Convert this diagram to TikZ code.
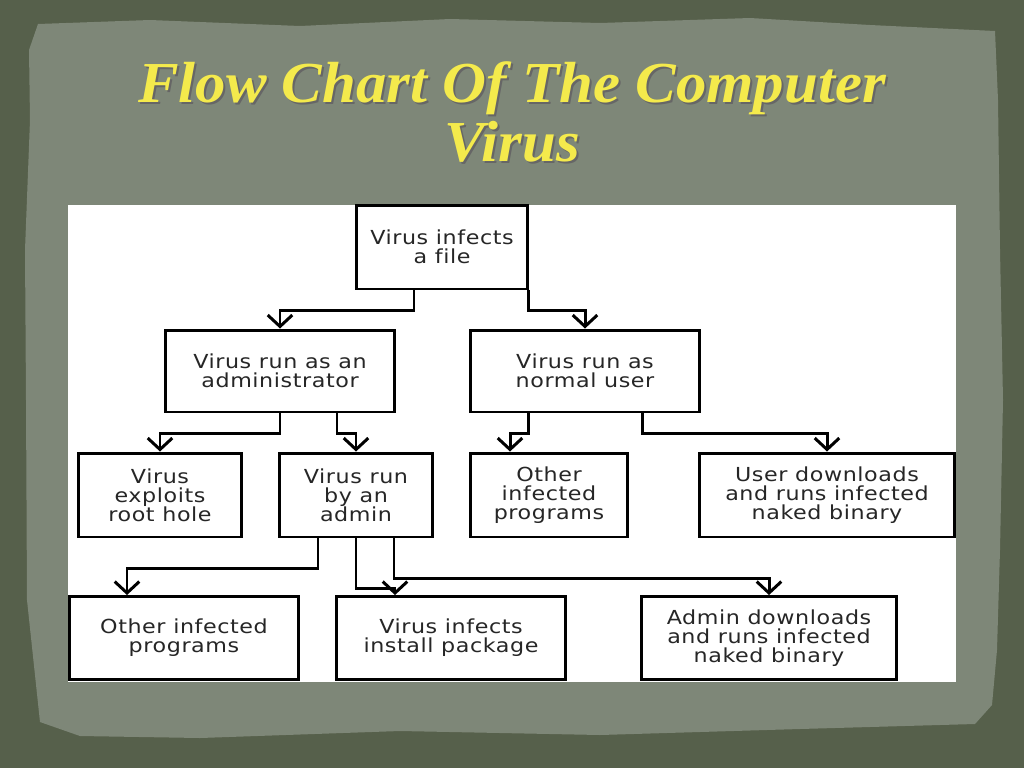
\documentclass[tikz,border=0pt]{standalone}
\usepackage{fontspec}
\usepackage{tikz}
\usetikzlibrary{arrows.meta}
\usetikzlibrary{positioning}
\usetikzlibrary{calc}
\newfontfamily\boxfont[FakeStretch=1.15,LetterSpace=3,Ligatures=NoCommon]{DejaVu Sans}
\newfontfamily\titlefont[FakeStretch=1.05]{Liberation Serif}
\definecolor{slatedark}{HTML}{56604B}
\definecolor{slatepanel}{HTML}{7E8778}
\definecolor{titleyellow}{HTML}{F4EA4C}
\tikzstyle{stage}=[draw=black,fill=white,line width=1.7pt,align=center,inner sep=1pt,text=black!85,font=\boxfont\fontsize{11}{10.8}\selectfont]
\tikzstyle{link}=[line width=1.7pt,-{Straight Barb[length=6.5pt,width=14pt,line width=1.7pt]}]

\begin{document}
\begin{tikzpicture}[x=0.02cm,y=-0.02cm]
\useasboundingbox (0,0) rectangle (1024,768);
% background and torn panel
\fill[slatedark] (0,0) rectangle (1024,768);
\fill[slatepanel] (38,24) -- (150,20) -- (300,26) -- (450,19) -- (600,23) -- (750,18) -- (870,25) -- (995,31)
  -- (998,100) -- (1000,250) -- (1003,400) -- (1000,550) -- (997,650) -- (992,705) -- (975,724)
  -- (800,729) -- (600,735) -- (400,731) -- (200,738) -- (80,736) -- (40,722)
  -- (27,600) -- (26,400) -- (25,250) -- (30,120) -- (29,50) -- cycle;
% title
\node[text=black!60,align=center,font=\titlefont\bfseries\itshape\fontsize{33}{34}\selectfont] at (514,114) {Flow Chart Of The Computer\\Virus};
\node[text=titleyellow,align=center,font=\titlefont\bfseries\itshape\fontsize{33}{34}\selectfont] (title) at (512,112) {Flow Chart Of The Computer\\Virus};
% chart area
\fill[white] (68,205) rectangle (956,682);

\node[stage,minimum width=3.44cm,minimum height=1.68cm] (top) at (442,247) {Virus infects\\a file};
\node[stage,minimum width=4.6cm,minimum height=1.64cm] (adm) at (280,371) {Virus run as an\\administrator};
\node[stage,minimum width=4.6cm,minimum height=1.64cm] (usr) at (585,371) {Virus run as\\normal user};
\node[stage,minimum width=3.26cm,minimum height=1.68cm] (hole) at (160,495) {Virus\\exploits\\root hole};
\node[stage,minimum width=3.08cm,minimum height=1.68cm] (byadm) at (356,495) {Virus run\\by an\\admin};
\node[stage,minimum width=3.16cm,minimum height=1.68cm] (othA) at (549,495) {Other\\infected\\programs};
\node[stage,minimum width=5.12cm,minimum height=1.68cm] (usrbin) at (827,495) {User downloads\\and runs infected\\naked binary};
\node[stage,minimum width=4.6cm,minimum height=1.66cm] (othB) at (184,638) {Other infected\\programs};
\node[stage,minimum width=4.58cm,minimum height=1.66cm] (pkg) at (451,638) {Virus infects\\install package};
\node[stage,minimum width=5.1cm,minimum height=1.66cm] (admbin) at (769,638) {Admin downloads\\and runs infected\\naked binary};

\draw[link] ($(top.south)+(-28,0)$) -- ++(0,20) -| (adm.north);
\draw[link] ($(top.south)+(86,0)$) -- ++(0,20) -| (usr.north);
\draw[link] (adm.south) -- ++(0,20) -| (hole.north);
\draw[link] ($(adm.south)+(57,0)$) -- ++(0,20) -| (byadm.north);
\draw[link] ($(usr.south)+(-57,0)$) -- ++(0,20) -| ($(othA.north)+(-39,0)$);
\draw[link] ($(usr.south)+(57,0)$) -- ++(0,20) -| (usrbin.north);
\draw[link] ($(byadm.south)+(-38,0)$) -- ++(0,30) -| ($(othB.north)+(-57,0)$);
\draw[link] (byadm.south) -- ++(0,50) -| ($(pkg.north)+(-56,0)$);
\draw[link] ($(byadm.south)+(38,0)$) -- ++(0,40) -| (admbin.north);
\end{tikzpicture}
\end{document}
